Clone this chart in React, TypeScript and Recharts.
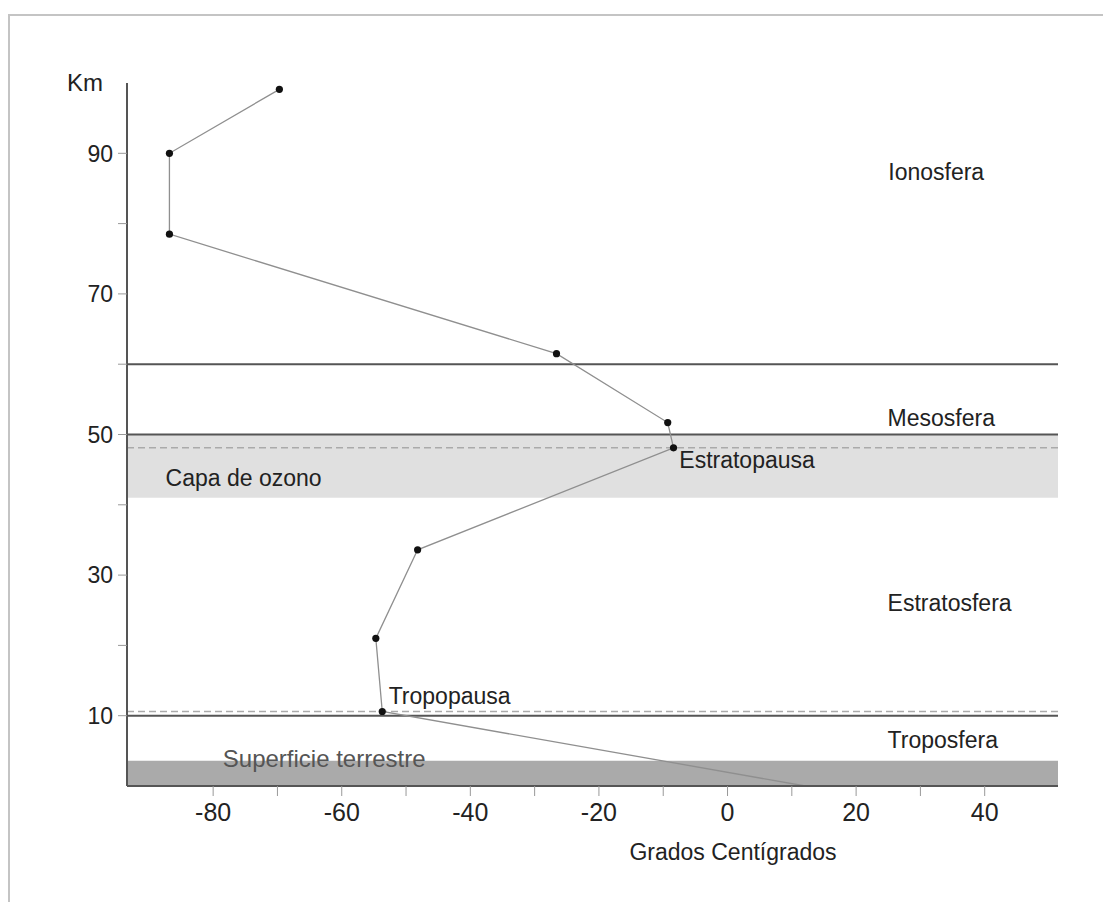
import React from 'react';
import { LineChart, Line, XAxis, YAxis, ReferenceLine, ReferenceArea, ReferenceDot, Label } from 'recharts';

// perfil de temperatura (°C) frente a altura (km)
const temperatures = [-69.7, -86.8, -86.8, -26.6, -9.3, -8.4, -48.2, -54.7, -53.7, 12.1];
const altitudes = [99.1, 90, 78.5, 61.5, 51.7, 48.1, 33.6, 21.0, 10.6, 0];

const xTicks = [-80, -70, -60, -50, -40, -30, -20, -10, 0, 10, 20, 30, 40];
const yTicks = [10, 20, 30, 40, 50, 60, 70, 80, 90];

const layerLimits = [60, 50, 10];
const pauseLimits = [48.1, 10.6];
const ozoneLayer = [41, 50];
const surfaceLayer = [0, 3.6];

const noteTexts = ['Ionosfera', 'Mesosfera', 'Estratopausa', 'Capa de ozono', 'Estratosfera', 'Tropopausa', 'Troposfera', 'Superficie terrestre'];
const noteTemps = [25.0, 24.9, -7.5, -87.4, 24.9, -52.7, 24.9, -78.5];
const noteKms = [86.2, 51.2, 45.2, 42.7, 24.9, 11.7, 5.4, 2.7];

const data = temperatures.map((t, i) => ({ temp: t, alt: altitudes[i] }));

const FONT = '"Liberation Sans", Arial, sans-serif';

const YTick = (props: any) => {
  const { x, y, payload } = props;
  if (payload.value % 20 !== 10) return <g />;
  return (
    <text x={x} y={y} dy="0.36em" textAnchor="end" fontSize={23} fill="#222" fontFamily={FONT}>
      {payload.value}
    </text>
  );
};

const XTick = (props: any) => {
  const { x, y, payload } = props;
  if (payload.value % 20 !== 0) return <g />;
  return (
    <text x={x} y={y} dy="0.72em" textAnchor="middle" fontSize={25} fill="#222" fontFamily={FONT}>
      {payload.value}
    </text>
  );
};

const renderDot = (props: any) => {
  const { cx, cy, index } = props;
  if (index === data.length - 1) return <g key={`d${index}`} />;
  return <circle key={`d${index}`} cx={cx} cy={cy} r={3.6} fill="#111" />;
};

const App: React.FC = () => {
  return (
    <div style={{ position: 'absolute', left: 0, top: 0, width: 1103, height: 902, overflow: 'hidden', background: '#fff' }}>
      <div
        style={{
          position: 'absolute',
          left: 8,
          top: 14,
          width: 1200,
          height: 1000,
          borderTop: '2px solid #c4c4c4',
          borderLeft: '2px solid #c4c4c4',
        }}
      />
      <div style={{ position: 'absolute', left: 0, top: 0 }}>
        <LineChart width={1103} height={902} data={data} margin={{ top: 83, right: 45, bottom: 41, left: 67 }}>
          <XAxis
            type="number"
            dataKey="temp"
            domain={[-93.4, 51.4]}
            ticks={xTicks}
            interval={0}
            height={75}
            tickSize={10}
            tickMargin={7}
            tick={<XTick />}
            axisLine={{ stroke: '#555', strokeWidth: 2 }}
            tickLine={{ stroke: '#999', strokeWidth: 1 }}
          >
            <Label
              content={(p: any) => (
                <text
                  x={p.viewBox.x + 606}
                  y={p.viewBox.y + 74}
                  textAnchor="middle"
                  fontSize={23}
                  fill="#222"
                  fontFamily={FONT}
                >
                  Grados Centígrados
                </text>
              )}
            />
          </XAxis>
          <YAxis
            type="number"
            dataKey="alt"
            domain={[0, 100]}
            ticks={yTicks}
            interval={0}
            width={60}
            tickSize={9}
            tickMargin={5}
            tick={<YTick />}
            axisLine={{ stroke: '#555', strokeWidth: 2 }}
            tickLine={{ stroke: '#999', strokeWidth: 1 }}
          >
            <Label
              content={(p: any) => (
                <text x={p.viewBox.x} y={p.viewBox.y + 8} fontSize={24} fill="#222" fontFamily={FONT}>
                  Km
                </text>
              )}
            />
          </YAxis>

          <ReferenceArea y1={ozoneLayer[0]} y2={ozoneLayer[1]} fill="#e0e0e0" fillOpacity={1} stroke="none" />
          <ReferenceArea y1={surfaceLayer[0]} y2={surfaceLayer[1]} fill="#aaaaaa" fillOpacity={1} stroke="none" />

          {pauseLimits.map((v) => (
            <ReferenceLine key={`p${v}`} y={v} stroke="#aaa" strokeWidth={1.5} strokeDasharray="7 4" />
          ))}
          {layerLimits.map((v) => (
            <ReferenceLine key={`l${v}`} y={v} stroke="#555" strokeWidth={2} />
          ))}

          {noteTexts.map((t, i) => (
            <ReferenceDot
              key={t}
              x={noteTemps[i]}
              y={noteKms[i]}
              r={0}
              fill="none"
              stroke="none"
              label={{
                content: (p: any) => (
                  <text
                    x={p.viewBox.x}
                    y={p.viewBox.y}
                    fontSize={t === 'Superficie terrestre' ? 24 : 23}
                    fill={t === 'Superficie terrestre' ? '#555' : '#222'}
                    fontFamily={FONT}
                  >
                    {t}
                  </text>
                ),
              }}
            />
          ))}

          <Line
            type="linear"
            dataKey="alt"
            stroke="#8f8f8f"
            strokeWidth={1.3}
            dot={renderDot}
            activeDot={false}
            isAnimationActive={false}
          />
        </LineChart>
      </div>
    </div>
  );
};

export default App;
